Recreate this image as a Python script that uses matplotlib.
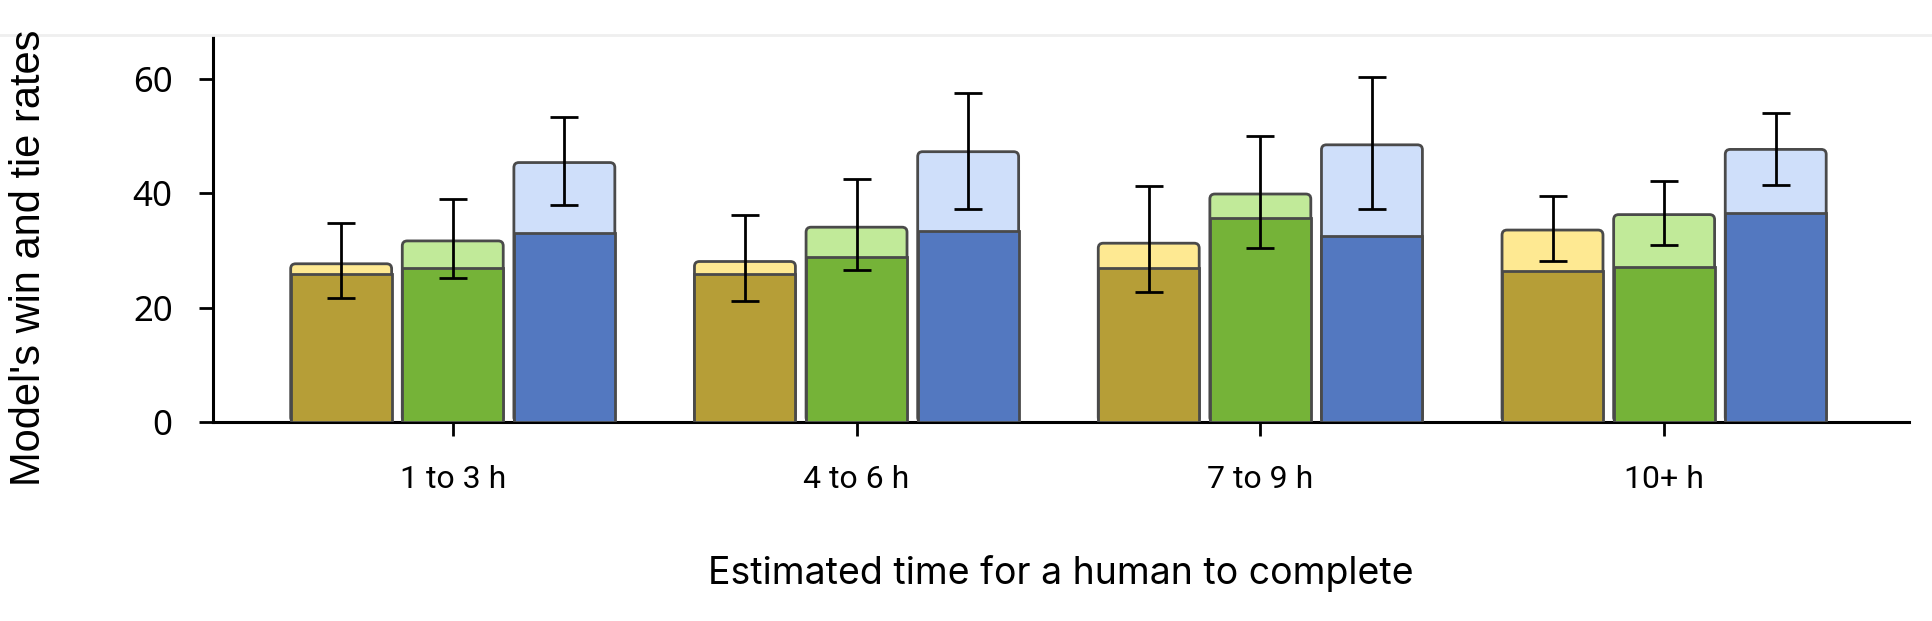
import numpy as np
import matplotlib.pyplot as plt
from matplotlib.patches import FancyBboxPatch

categories = ["1 to 3 h", "4 to 6 h", "7 to 9 h", "10+ h"]

# three models per time bucket: win rate (dark part) and win+tie rate (whole bar)
win_a = [26.0, 26.0, 27.0, 26.4]
win_tie_a = [27.7, 28.1, 31.3, 33.6]
ci_low_a = [21.7, 21.2, 22.8, 28.2]
ci_high_a = [34.9, 36.3, 41.3, 39.5]

win_b = [27.0, 28.9, 35.7, 27.2]
win_tie_b = [31.7, 34.1, 39.9, 36.3]
ci_low_b = [25.3, 26.6, 30.5, 30.9]
ci_high_b = [39.0, 42.6, 50.0, 42.2]

win_c = [33.1, 33.4, 32.5, 36.6]
win_tie_c = [45.4, 47.3, 48.5, 47.7]
ci_low_c = [37.9, 37.2, 37.2, 41.5]
ci_high_c = [53.4, 57.6, 60.3, 54.1]

dark_colors = ["#b69e37", "#75b338", "#5378c0"]
light_colors = ["#fee992", "#c1ea99", "#cfdffa"]
edge = "#4a4a4a"

fig = plt.figure(figsize=(19.32, 6.21), dpi=100)
ax = fig.add_axes([0.1102, 0.3201, 0.8778, 0.6226])

x = np.arange(len(categories))
offsets = [-0.2764, 0.0, 0.2764]
width = 0.25
xlim = (-0.594, 3.606)
ylim = (0, 67.6)

# rounding of the bar tops, given in pixels and converted to data units
ax_w_px = 0.8778 * 1932
ax_h_px = 0.6226 * 621
rx = 5 * (xlim[1] - xlim[0]) / ax_w_px
aspect = ((ylim[1] - ylim[0]) / ax_h_px) / ((xlim[1] - xlim[0]) / ax_w_px)

series = [
    (win_a, win_tie_a, ci_low_a, ci_high_a),
    (win_b, win_tie_b, ci_low_b, ci_high_b),
    (win_c, win_tie_c, ci_low_c, ci_high_c),
]

for k, (win, total, lo, hi) in enumerate(series):
    xs = x + offsets[k]
    for xi, t in zip(xs, total):
        ax.add_patch(FancyBboxPatch((xi - width / 2, 0), width, t,
                                    boxstyle=f"round,pad=0,rounding_size={rx}",
                                    mutation_aspect=aspect,
                                    facecolor=light_colors[k], edgecolor=edge,
                                    linewidth=2, zorder=2))
    ax.bar(xs, win, width=width, color=dark_colors[k], edgecolor=edge,
           linewidth=2, zorder=3)
    total = np.array(total)
    yerr = [total - np.array(lo), np.array(hi) - total]
    ax.errorbar(xs, total, yerr=yerr, fmt="none", ecolor="black",
                elinewidth=2, capsize=10, capthick=2, zorder=5)

ax.set_xlim(*xlim)
ax.set_ylim(*ylim)
ax.set_yticks([0, 20, 40, 60])
ax.set_xticks(x)
ax.set_xticklabels(categories, fontsize=23, family="Roboto")
for lab in ax.get_yticklabels():
    lab.set_fontsize(25)
    lab.set_family("Noto Sans")

ax.spines["top"].set_visible(False)
ax.spines["right"].set_visible(False)
ax.spines["left"].set_linewidth(2.2)
ax.spines["bottom"].set_linewidth(2.2)
ax.tick_params(axis="y", length=10, width=2, pad=19)
ax.tick_params(axis="x", length=10, width=2, pad=21)

ax.set_xlabel("Estimated time for a human to complete", fontsize=27,
              family="Inter", labelpad=44)

fig.text(29.5 / 1932, 1 - 258 / 621, "Model's win and tie rates",
         rotation=90, ha="center", va="center", fontsize=30,
         family="Liberation Sans")

# faint page line at the top of the screenshot
fig.add_artist(plt.Line2D([0, 1], [1 - 34.5 / 621] * 2, color="#efefef",
                          linewidth=2, transform=fig.transFigure))

fig.savefig("out.png", dpi=100, facecolor="white")
